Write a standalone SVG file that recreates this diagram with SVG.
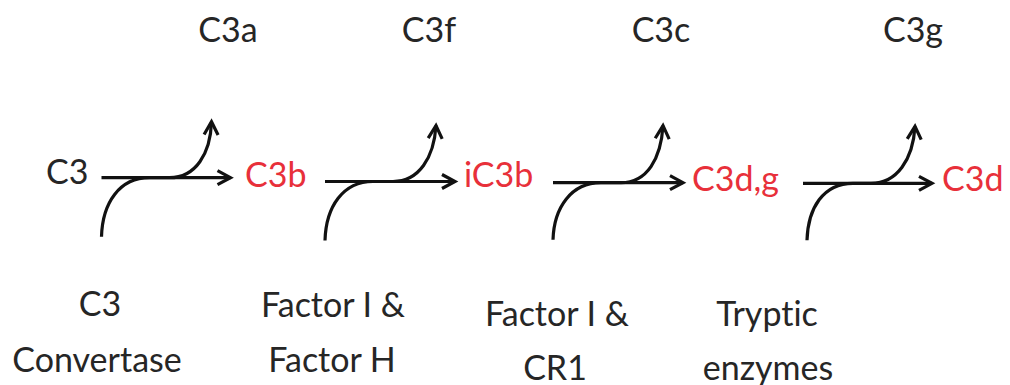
<svg xmlns="http://www.w3.org/2000/svg" width="1010" height="385" viewBox="0 0 1010 385">
<style>
  text { font-family: Lato, "Open Sans", "Liberation Sans", sans-serif; font-size: 34px; fill: #262626; font-variant-ligatures: none; font-feature-settings: "liga" 0; }
  .red { fill: #e8303a; }
  .c { text-anchor: middle; }
  .ln { fill: none; stroke: #111; stroke-width: 3.2; }
</style>
<defs>
  <marker id="ah" markerUnits="userSpaceOnUse" markerWidth="20" markerHeight="20" refX="13" refY="0" viewBox="-2 -10 18 20" orient="auto" overflow="visible">
    <path d="M0,-7 L13,0 L0,7" fill="none" stroke="#111" stroke-width="3.2" stroke-linejoin="miter"/>
  </marker>
</defs>
<rect width="1010" height="385" fill="#fff"/>

<g id="products">
  <text class="c" x="228" y="42">C3a</text>
  <text class="c" x="429" y="42">C3f</text>
  <text class="c" x="661" y="42">C3c</text>
  <text class="c" x="913" y="42">C3g</text>
</g>

<g id="n-C3"><text x="46" y="184">C3</text></g>
<g id="n-C3b"><text class="red" x="245" y="187">C3b</text></g>
<g id="n-iC3b"><text class="red" x="464" y="187">iC3b</text></g>
<g id="n-C3dg"><text class="red" x="692" y="191">C3d,g</text></g>
<g id="n-C3d"><text class="red" x="942" y="191">C3d</text></g>

<g id="enzymes">
  <g id="e1"><text class="c" x="100" y="316">C3</text><text class="c" x="97" y="372">Convertase</text></g>
  <g id="e2"><text class="c" x="333" y="317">Factor I &amp;</text><text class="c" x="332" y="372">Factor H</text></g>
  <g id="e3"><text class="c" x="557" y="326">Factor I &amp;</text><text class="c" x="555" y="380">CR1</text></g>
  <g id="e4"><text class="c" x="767" y="326">Tryptic</text><text class="c" x="768" y="380">enzymes</text></g>
</g>

<g id="connectors">
  <g transform="translate(101.5,177.7)">
    <path class="ln" d="M0,0 H129" marker-end="url(#ah)"/>
    <path class="ln" d="M0,59 C1,25 18,0 48,0 L68,0 C94,0 109,-24 110,-56" marker-end="url(#ah)"/>
  </g>
  <g transform="translate(325,181.5)">
    <path class="ln" d="M0,0 H130" marker-end="url(#ah)"/>
    <path class="ln" d="M0,59 C1,25 18,0 48,0 L68,0 C94,0 109,-24 111,-56" marker-end="url(#ah)"/>
  </g>
  <g transform="translate(553,182.7)">
    <path class="ln" d="M0,0 H130" marker-end="url(#ah)"/>
    <path class="ln" d="M0,57 C1,25 18,0 48,0 L68,0 C94,0 108,-24 110,-57" marker-end="url(#ah)"/>
  </g>
  <g transform="translate(803,183.3)">
    <path class="ln" d="M0,0 H129" marker-end="url(#ah)"/>
    <path class="ln" d="M4,57 C5,25 20,0 50,0 L68,0 C94,0 110,-24 112,-57" marker-end="url(#ah)"/>
  </g>
</g>
</svg>
